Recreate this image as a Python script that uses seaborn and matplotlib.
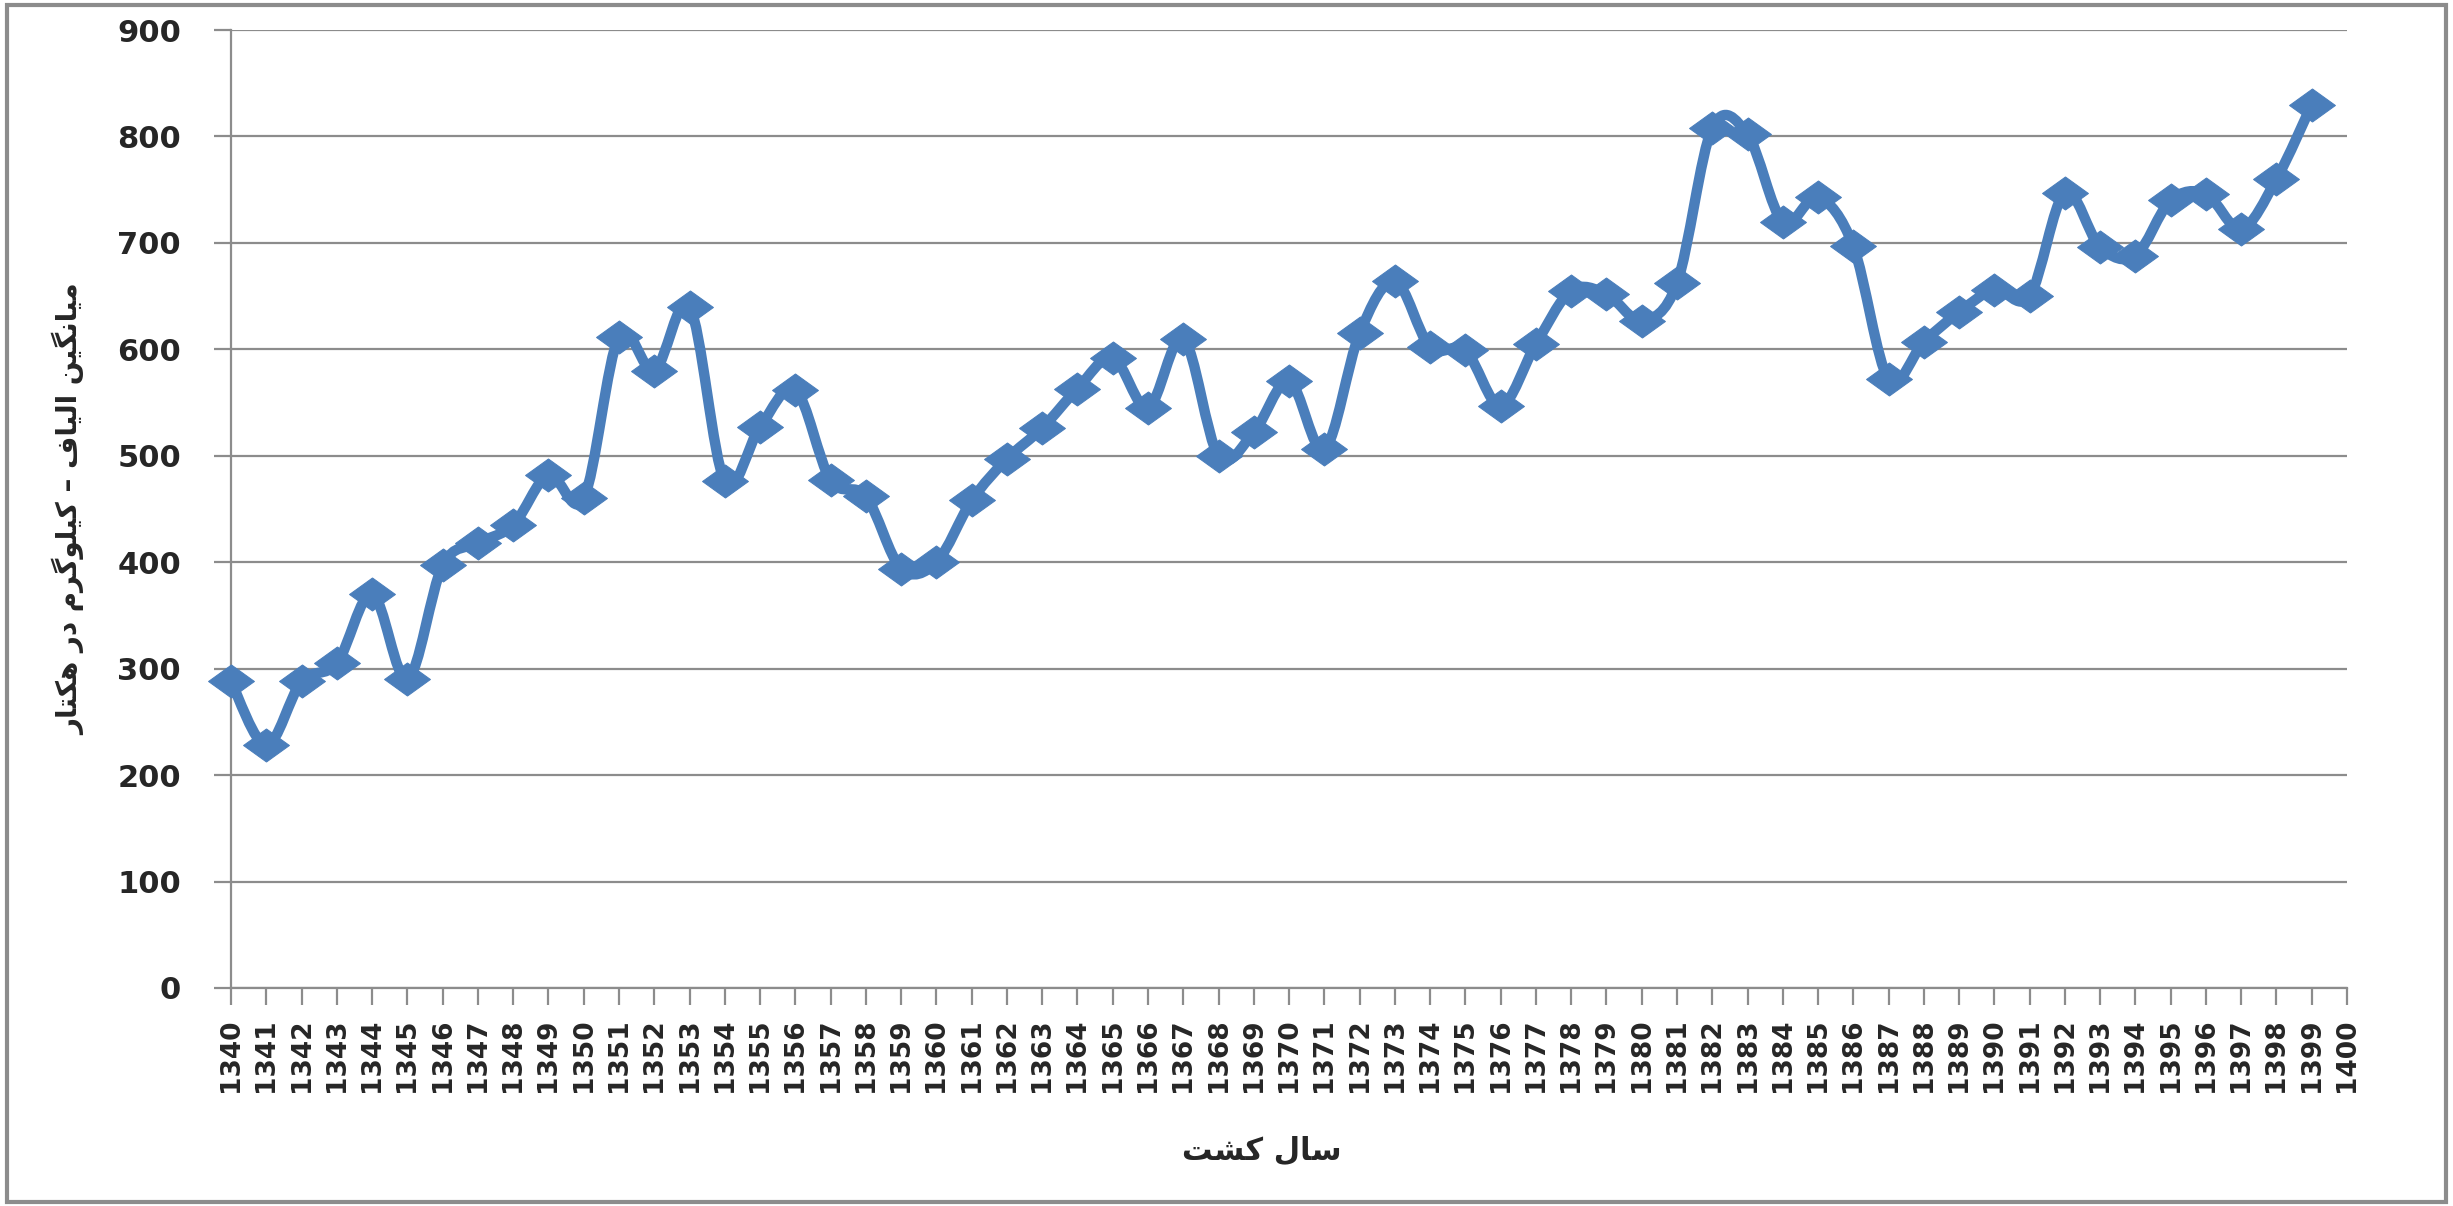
import numpy as np
import pandas as pd
import matplotlib
matplotlib.use("Agg")
import matplotlib.pyplot as plt
import seaborn as sns
from matplotlib.patches import Rectangle, PathPatch
from matplotlib.path import Path

# data (mean fibre yield, kg/ha)
years = list(range(1340, 1400))
values = [288, 228, 288, 305, 370, 290, 397, 418, 435, 482,
          460, 612, 580, 640, 476, 527, 562, 477, 462, 394,
          400, 458, 497, 526, 563, 592, 545, 610, 500, 522,
          570, 506, 615, 664, 602, 599, 547, 605, 655, 652,
          627, 662, 808, 802, 720, 743, 697, 572, 607, 635,
          656, 650, 747, 696, 688, 740, 746, 713, 760, 830]
tick_years = list(range(1340, 1401))
y_ticks = list(range(0, 901, 100))


# matplotlib has no arabic shaping, so words are given as presentation forms
# (logical order) and the whole line is reversed for display
def rtl(words):
    return " ".join(words)[::-1]


xlabel = rtl(["\uFEB3\uFE8E\uFEDD",                 # سال
              "\uFB90\uFEB8\uFE96"])                # کشت
ylabel = rtl(["\uFEE3\uFBFF\uFE8E\uFEE7\uFB95\uFBFF\uFEE6",   # میانگین
              "\uFE8D\uFEDF\uFBFF\uFE8E\uFED1",               # الیاف
              "\u2013",
              "\uFB90\uFBFF\uFEE0\uFEEE\uFB94\uFEAE\uFEE1",   # کیلوگرم
              "\uFEA9\uFEAD",                                 # در
              "\uFEEB\uFB91\uFE98\uFE8E\uFEAD"])              # هکتار


def smooth_path(x, y):
    # excel style smoothed line: cubic bezier segments, catmull-rom handles
    pts = np.column_stack([x, y]).astype(float)
    n = len(pts)
    verts = [pts[0]]
    codes = [Path.MOVETO]
    for i in range(n - 1):
        p0 = pts[max(i - 1, 0)]
        p1 = pts[i]
        p2 = pts[i + 1]
        p3 = pts[min(i + 2, n - 1)]
        verts += [p1 + (p2 - p0) / 6, p2 - (p3 - p1) / 6, p2]
        codes += [Path.CURVE4] * 3
    return Path(verts, codes)


df = pd.DataFrame({"year": years, "value": values})

sns.set_style("white")
plt.rcParams["font.family"] = ["DejaVu Sans"]

fig, ax = plt.subplots(figsize=(24.53, 12.06), dpi=100)
fig.subplots_adjust(left=0.0942, right=0.9568, top=0.9751, bottom=0.1808)

blue = "#4A7EBB"
grid_c = "#8C8C8C"
diamond = [(-1, 0), (0, 0.72), (1, 0), (0, -0.72), (-1, 0)]

# markers through seaborn, smoothed line on top of the same data axes
sns.lineplot(data=df, x="year", y="value", ax=ax, color=blue, linestyle="none",
             marker=diamond, markersize=33, markeredgecolor=blue,
             markerfacecolor=blue, zorder=4, clip_on=False)
ax.add_patch(PathPatch(smooth_path(df["year"], df["value"]), facecolor="none",
                       edgecolor=blue, linewidth=7.5, zorder=3,
                       capstyle="round", joinstyle="round"))

ax.set_xlim(1340, 1400)
ax.set_ylim(0, 900)
ax.set_xticks(tick_years)
ax.set_xticklabels([str(y) for y in tick_years], rotation=90,
                   fontsize=19, fontweight="bold")
ax.set_yticks(y_ticks)
ax.set_yticklabels([str(v) for v in y_ticks], fontsize=22, fontweight="bold")

ax.grid(axis="y", color=grid_c, linewidth=1.6)
ax.grid(axis="x", visible=False)
ax.set_axisbelow(True)
for s in ["top", "right"]:
    ax.spines[s].set_visible(False)
for s in ["left", "bottom"]:
    ax.spines[s].set_color(grid_c)
    ax.spines[s].set_linewidth(1.6)
ax.tick_params(axis="both", which="major", direction="out", length=12,
               width=1.6, color=grid_c, left=True, bottom=True)
ax.tick_params(axis="y", pad=24)
ax.tick_params(axis="x", pad=10)

ax.set_xlabel(xlabel, fontsize=22, fontweight="bold")
ax.xaxis.set_label_coords(0.487, -0.155)
ax.set_ylabel(ylabel, fontsize=20, fontweight="bold")
ax.yaxis.set_label_coords(-0.069, 0.5)

# outer chart border
fig.patches.append(Rectangle((0.003, 0.003), 0.994, 0.993, transform=fig.transFigure,
                             fill=False, edgecolor="#8C8C8C", linewidth=3))

fig.savefig("out.png", dpi=100)
